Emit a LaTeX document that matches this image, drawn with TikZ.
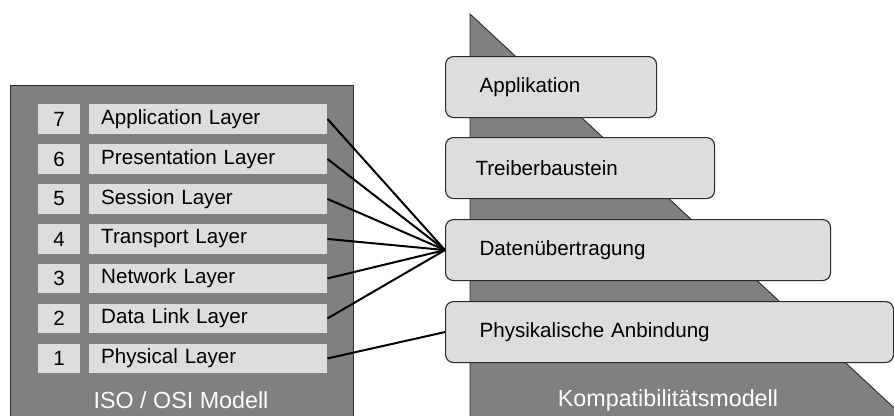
\documentclass[tikz,border=0pt]{standalone}
\usepackage{fontspec}
\setmainfont{Liberation Sans}
\newfontfamily\tightfont{Liberation Sans}[WordSpace=0.45]
\begin{document}
\definecolor{panelgray}{HTML}{808080}
\definecolor{cellgray}{HTML}{DDDDDD}
\definecolor{edgegray}{HTML}{2A2A2A}
\newcommand{\labfont}{\tightfont\fontsize{20.6}{23}\selectfont}
\newcommand{\capfont}{\fontsize{23.3}{27}\selectfont}
\tikzset{
  panel/.style={draw=edgegray, line width=0.9pt, fill=panelgray, inner sep=0pt},
  numcell/.style={fill=cellgray, minimum width=42pt, minimum height=29.5pt,
    inner sep=0pt, font=\labfont, text=black, anchor=north west},
  laycell/.style={fill=cellgray, minimum height=29.5pt, inner xsep=12pt, inner ysep=0pt,
    text width=214pt, align=left, font=\labfont, text=black, anchor=north west},
  tier/.style={draw=edgegray, line width=1.1pt, fill=cellgray, rounded corners=8pt,
    minimum height=61pt, inner xsep=34pt, inner ysep=0pt, align=left,
    font=\labfont, text=black, anchor=north west},
  caption/.style={font=\capfont, text=white},
  link/.style={line width=2pt, black}
}
\begin{tikzpicture}[x=1pt, y=-1pt]
  \useasboundingbox (0,0) rectangle (894,415);
  \clip (0,0) rectangle (894,415);

  % compatibility model: grey wedge behind the tiers
  \fill[panelgray, draw=edgegray, line width=0.9pt] (470,14) -- (905,418) -- (470,418) -- cycle;

  % ISO/OSI panel
  \node[panel, anchor=north west, minimum width=343pt, minimum height=345pt] (iso) at (10,85) {};
  \node[caption] (isocap) at (181,400) {ISO / OSI Modell};

  \node[numcell] (n7) at (38,104) {7};
  \node[numcell] (n6) at (38,144) {6};
  \node[numcell] (n5) at (38,184) {5};
  \node[numcell] (n4) at (38,224) {4};
  \node[numcell] (n3) at (38,263.5) {3};
  \node[numcell] (n2) at (38,303.5) {2};
  \node[numcell] (n1) at (38,343.5) {1};

  \node[laycell] (l7) at (89,104) {Application Layer};
  \node[laycell] (l6) at (89,144) {Presentation Layer};
  \node[laycell] (l5) at (89,184) {Session Layer};
  \node[laycell] (l4) at (89,224) {Transport Layer};
  \node[laycell] (l3) at (89,263.5) {Network Layer};
  \node[laycell] (l2) at (89,303.5) {Data Link Layer};
  \node[laycell] (l1) at (89,343.5) {Physical Layer};

  % tiers of the compatibility model
  \node[tier, text width=143pt] (app) at (445,56) {Applikation};
  \node[tier, inner xsep=30pt, text width=209pt] (drv) at (445,137) {Treiberbaustein};
  \node[tier, text width=317pt] (dat) at (445,219) {Datenübertragung};
  \node[tier, text width=380pt] (phy) at (445,301) {Physikalische Anbindung};

  \node[caption] (kcap) at (668,400) {Kompatibilitätsmodell};

  % layer mapping
  \foreach \l in {l7,l6,l5,l4,l3,l2}
    \draw[link] (\l.east) -- (dat.west);
  \draw[link] (l1.east) -- (phy.west);
\end{tikzpicture}
\end{document}
